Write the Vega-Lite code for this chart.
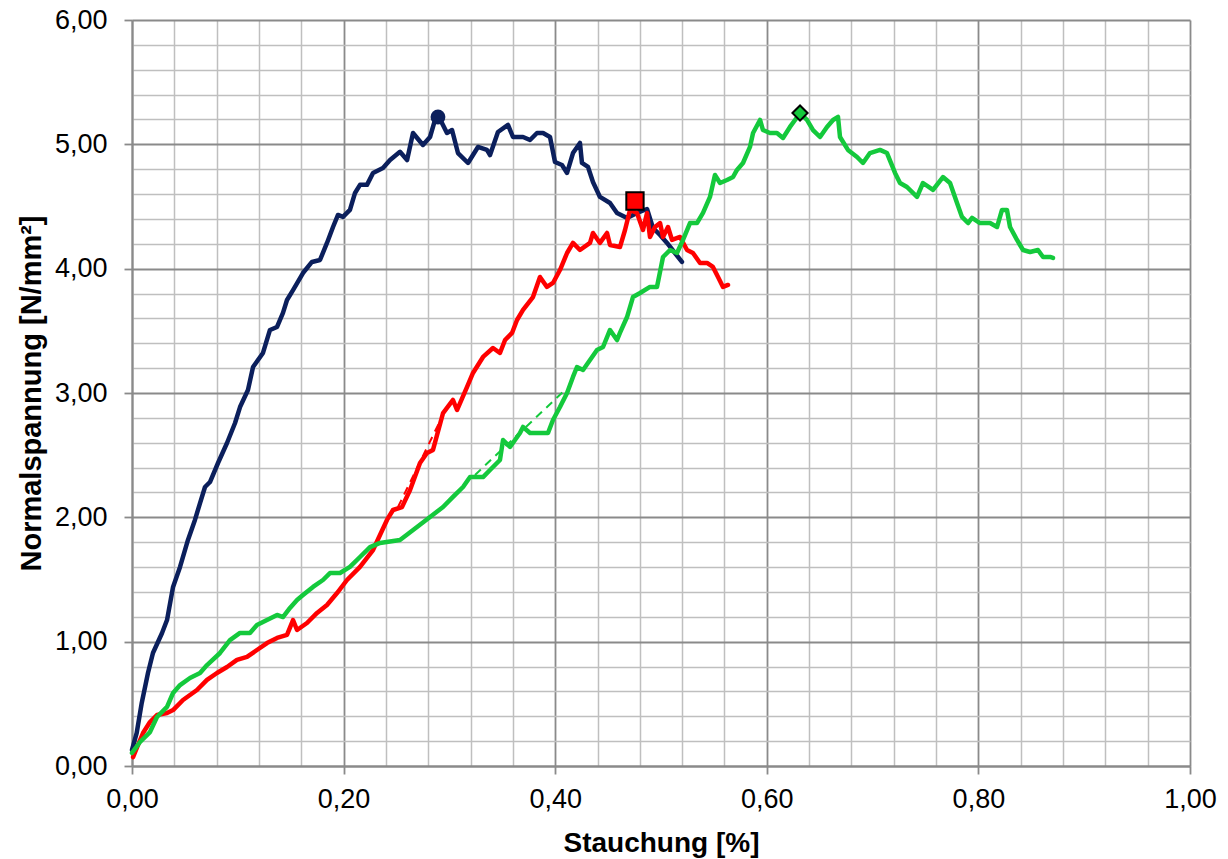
{
  "$schema": "https://vega.github.io/schema/vega-lite/v6.json",
  "width": 1058,
  "height": 746,
  "autosize": {"type": "none"},
  "padding": {"left": 132, "top": 20, "right": 38, "bottom": 93},
  "background": "white",
  "config": {"view": {"stroke": null}},
  "datasets": {
    "curves": [
      {"s":"b","x":0,"y":0.129},{"s":"b","x":0.0044,"y":0.265},{"s":"b","x":0.0092,"y":0.507},{"s":"b","x":0.0151,"y":0.748},{"s":"b","x":0.0198,"y":0.909},{"s":"b","x":0.0284,"y":1.07},{"s":"b","x":0.0331,"y":1.174},{"s":"b","x":0.0388,"y":1.44},{"s":"b","x":0.0454,"y":1.601},{"s":"b","x":0.0529,"y":1.818},{"s":"b","x":0.0595,"y":1.979},{"s":"b","x":0.0643,"y":2.115},{"s":"b","x":0.069,"y":2.244},{"s":"b","x":0.0737,"y":2.284},{"s":"b","x":0.0813,"y":2.437},{"s":"b","x":0.0898,"y":2.598},{"s":"b","x":0.0974,"y":2.759},{"s":"b","x":0.1021,"y":2.887},{"s":"b","x":0.1096,"y":3.024},{"s":"b","x":0.1144,"y":3.209},{"s":"b","x":0.1238,"y":3.322},{"s":"b","x":0.1304,"y":3.507},{"s":"b","x":0.1371,"y":3.531},{"s":"b","x":0.1427,"y":3.644},{"s":"b","x":0.1465,"y":3.748},{"s":"b","x":0.1522,"y":3.828},{"s":"b","x":0.1616,"y":3.965},{"s":"b","x":0.1701,"y":4.054},{"s":"b","x":0.1777,"y":4.07},{"s":"b","x":0.1843,"y":4.207},{"s":"b","x":0.19,"y":4.335},{"s":"b","x":0.1947,"y":4.432},{"s":"b","x":0.1994,"y":4.416},{"s":"b","x":0.206,"y":4.473},{"s":"b","x":0.2108,"y":4.609},{"s":"b","x":0.2155,"y":4.674},{"s":"b","x":0.2221,"y":4.674},{"s":"b","x":0.2278,"y":4.77},{"s":"b","x":0.2372,"y":4.81},{"s":"b","x":0.2439,"y":4.874},{"s":"b","x":0.2533,"y":4.94},{"s":"b","x":0.26,"y":4.874},{"s":"b","x":0.2656,"y":5.091},{"s":"b","x":0.275,"y":4.995},{"s":"b","x":0.2817,"y":5.059},{"s":"b","x":0.2864,"y":5.196},{"s":"b","x":0.2892,"y":5.236},{"s":"b","x":0.2977,"y":5.091},{"s":"b","x":0.3025,"y":5.115},{"s":"b","x":0.3081,"y":4.93},{"s":"b","x":0.3176,"y":4.85},{"s":"b","x":0.327,"y":4.979},{"s":"b","x":0.3355,"y":4.955},{"s":"b","x":0.3384,"y":4.914},{"s":"b","x":0.3459,"y":5.099},{"s":"b","x":0.3554,"y":5.156},{"s":"b","x":0.3601,"y":5.059},{"s":"b","x":0.3696,"y":5.059},{"s":"b","x":0.3762,"y":5.035},{"s":"b","x":0.3828,"y":5.091},{"s":"b","x":0.3885,"y":5.091},{"s":"b","x":0.3951,"y":5.059},{"s":"b","x":0.3998,"y":4.858},{"s":"b","x":0.4064,"y":4.834},{"s":"b","x":0.4112,"y":4.77},{"s":"b","x":0.4168,"y":4.93},{"s":"b","x":0.4234,"y":5.011},{"s":"b","x":0.4253,"y":4.85},{"s":"b","x":0.431,"y":4.818},{"s":"b","x":0.4357,"y":4.697},{"s":"b","x":0.4423,"y":4.577},{"s":"b","x":0.4518,"y":4.528},{"s":"b","x":0.4584,"y":4.448},{"s":"b","x":0.4679,"y":4.408},{"s":"b","x":0.4773,"y":4.448},{"s":"b","x":0.4868,"y":4.48},{"s":"b","x":0.4924,"y":4.327},{"s":"b","x":0.4991,"y":4.271},{"s":"b","x":0.5057,"y":4.207},{"s":"b","x":0.5132,"y":4.126},{"s":"b","x":0.5198,"y":4.054},
      {"s":"r","x":0.001,"y":0.072},{"s":"r","x":0.0057,"y":0.169},{"s":"r","x":0.0104,"y":0.265},{"s":"r","x":0.017,"y":0.354},{"s":"r","x":0.0236,"y":0.41},{"s":"r","x":0.0331,"y":0.426},{"s":"r","x":0.0388,"y":0.45},{"s":"r","x":0.0482,"y":0.531},{"s":"r","x":0.0614,"y":0.611},{"s":"r","x":0.0709,"y":0.692},{"s":"r","x":0.0803,"y":0.748},{"s":"r","x":0.0898,"y":0.796},{"s":"r","x":0.0992,"y":0.853},{"s":"r","x":0.1087,"y":0.877},{"s":"r","x":0.1181,"y":0.933},{"s":"r","x":0.1276,"y":0.989},{"s":"r","x":0.1371,"y":1.03},{"s":"r","x":0.1465,"y":1.054},{"s":"r","x":0.1522,"y":1.174},{"s":"r","x":0.156,"y":1.094},{"s":"r","x":0.1654,"y":1.15},{"s":"r","x":0.1749,"y":1.231},{"s":"r","x":0.1843,"y":1.295},{"s":"r","x":0.1938,"y":1.391},{"s":"r","x":0.2032,"y":1.496},{"s":"r","x":0.2155,"y":1.601},{"s":"r","x":0.2278,"y":1.737},{"s":"r","x":0.2344,"y":1.858},{"s":"r","x":0.241,"y":1.979},{"s":"r","x":0.2467,"y":2.059},{"s":"r","x":0.2552,"y":2.083},{"s":"r","x":0.2628,"y":2.22},{"s":"r","x":0.2722,"y":2.437},{"s":"r","x":0.2788,"y":2.517},{"s":"r","x":0.2845,"y":2.542},{"s":"r","x":0.294,"y":2.839},{"s":"r","x":0.3034,"y":2.944},{"s":"r","x":0.3072,"y":2.863},{"s":"r","x":0.3166,"y":3.048},{"s":"r","x":0.3223,"y":3.161},{"s":"r","x":0.3318,"y":3.29},{"s":"r","x":0.3412,"y":3.362},{"s":"r","x":0.3478,"y":3.322},{"s":"r","x":0.3526,"y":3.426},{"s":"r","x":0.3592,"y":3.483},{"s":"r","x":0.3639,"y":3.587},{"s":"r","x":0.3696,"y":3.668},{"s":"r","x":0.379,"y":3.772},{"s":"r","x":0.3856,"y":3.933},{"s":"r","x":0.3922,"y":3.853},{"s":"r","x":0.3979,"y":3.885},{"s":"r","x":0.4045,"y":3.989},{"s":"r","x":0.4112,"y":4.126},{"s":"r","x":0.4168,"y":4.207},{"s":"r","x":0.4234,"y":4.15},{"s":"r","x":0.4329,"y":4.207},{"s":"r","x":0.4357,"y":4.287},{"s":"r","x":0.4423,"y":4.207},{"s":"r","x":0.449,"y":4.287},{"s":"r","x":0.4518,"y":4.19},{"s":"r","x":0.4612,"y":4.174},{"s":"r","x":0.466,"y":4.311},{"s":"r","x":0.4707,"y":4.472},{"s":"r","x":0.4773,"y":4.448},{"s":"r","x":0.483,"y":4.311},{"s":"r","x":0.4868,"y":4.448},{"s":"r","x":0.4896,"y":4.255},{"s":"r","x":0.4943,"y":4.335},{"s":"r","x":0.4991,"y":4.367},{"s":"r","x":0.5019,"y":4.255},{"s":"r","x":0.5066,"y":4.335},{"s":"r","x":0.5104,"y":4.231},{"s":"r","x":0.518,"y":4.255},{"s":"r","x":0.5246,"y":4.15},{"s":"r","x":0.5302,"y":4.126},{"s":"r","x":0.5369,"y":4.046},{"s":"r","x":0.5435,"y":4.046},{"s":"r","x":0.5491,"y":4.014},{"s":"r","x":0.5539,"y":3.933},{"s":"r","x":0.5586,"y":3.853},{"s":"r","x":0.5633,"y":3.869},
      {"s":"g","x":0,"y":0.105},{"s":"g","x":0.0076,"y":0.193},{"s":"g","x":0.017,"y":0.273},{"s":"g","x":0.0236,"y":0.394},{"s":"g","x":0.0331,"y":0.475},{"s":"g","x":0.0388,"y":0.587},{"s":"g","x":0.0454,"y":0.651},{"s":"g","x":0.0548,"y":0.708},{"s":"g","x":0.0643,"y":0.748},{"s":"g","x":0.0709,"y":0.812},{"s":"g","x":0.0832,"y":0.909},{"s":"g","x":0.0926,"y":1.013},{"s":"g","x":0.1021,"y":1.07},{"s":"g","x":0.1115,"y":1.07},{"s":"g","x":0.1181,"y":1.134},{"s":"g","x":0.1276,"y":1.174},{"s":"g","x":0.1371,"y":1.215},{"s":"g","x":0.1427,"y":1.198},{"s":"g","x":0.1493,"y":1.271},{"s":"g","x":0.156,"y":1.335},{"s":"g","x":0.1616,"y":1.375},{"s":"g","x":0.1711,"y":1.44},{"s":"g","x":0.1805,"y":1.496},{"s":"g","x":0.1871,"y":1.552},{"s":"g","x":0.1966,"y":1.552},{"s":"g","x":0.206,"y":1.601},{"s":"g","x":0.2155,"y":1.681},{"s":"g","x":0.225,"y":1.761},{"s":"g","x":0.2344,"y":1.794},{"s":"g","x":0.2533,"y":1.818},{"s":"g","x":0.2694,"y":1.922},{"s":"g","x":0.2817,"y":2.003},{"s":"g","x":0.294,"y":2.083},{"s":"g","x":0.3034,"y":2.164},{"s":"g","x":0.3129,"y":2.244},{"s":"g","x":0.3195,"y":2.324},{"s":"g","x":0.3318,"y":2.324},{"s":"g","x":0.3384,"y":2.381},{"s":"g","x":0.3478,"y":2.461},{"s":"g","x":0.3507,"y":2.622},{"s":"g","x":0.3573,"y":2.566},{"s":"g","x":0.3667,"y":2.678},{"s":"g","x":0.3696,"y":2.727},{"s":"g","x":0.3762,"y":2.678},{"s":"g","x":0.3856,"y":2.678},{"s":"g","x":0.3932,"y":2.678},{"s":"g","x":0.3979,"y":2.783},{"s":"g","x":0.4045,"y":2.887},{"s":"g","x":0.4112,"y":3.0},{"s":"g","x":0.4168,"y":3.129},{"s":"g","x":0.4206,"y":3.209},{"s":"g","x":0.4263,"y":3.185},{"s":"g","x":0.4329,"y":3.265},{"s":"g","x":0.4395,"y":3.346},{"s":"g","x":0.4452,"y":3.37},{"s":"g","x":0.4518,"y":3.507},{"s":"g","x":0.4584,"y":3.426},{"s":"g","x":0.4612,"y":3.483},{"s":"g","x":0.4679,"y":3.611},{"s":"g","x":0.4735,"y":3.772},{"s":"g","x":0.4802,"y":3.804},{"s":"g","x":0.4896,"y":3.853},{"s":"g","x":0.4962,"y":3.853},{"s":"g","x":0.5019,"y":4.094},{"s":"g","x":0.5085,"y":4.15},{"s":"g","x":0.5151,"y":4.126},{"s":"g","x":0.5208,"y":4.231},{"s":"g","x":0.5274,"y":4.367},{"s":"g","x":0.534,"y":4.367},{"s":"g","x":0.5397,"y":4.448},{"s":"g","x":0.5463,"y":4.577},{"s":"g","x":0.551,"y":4.753},{"s":"g","x":0.5558,"y":4.689},{"s":"g","x":0.5624,"y":4.713},{"s":"g","x":0.5681,"y":4.737},{"s":"g","x":0.5718,"y":4.794},{"s":"g","x":0.5775,"y":4.85},{"s":"g","x":0.5841,"y":4.979},{"s":"g","x":0.587,"y":5.091},{"s":"g","x":0.5936,"y":5.196},{"s":"g","x":0.5964,"y":5.115},{"s":"g","x":0.603,"y":5.091},{"s":"g","x":0.6096,"y":5.091},{"s":"g","x":0.6153,"y":5.051},{"s":"g","x":0.6219,"y":5.14},{"s":"g","x":0.6267,"y":5.196},{"s":"g","x":0.6314,"y":5.252},{"s":"g","x":0.638,"y":5.196},{"s":"g","x":0.6437,"y":5.115},{"s":"g","x":0.6503,"y":5.059},{"s":"g","x":0.6569,"y":5.14},{"s":"g","x":0.6626,"y":5.196},{"s":"g","x":0.6673,"y":5.22},{"s":"g","x":0.6692,"y":5.059},{"s":"g","x":0.6767,"y":4.955},{"s":"g","x":0.6853,"y":4.898},{"s":"g","x":0.6909,"y":4.85},{"s":"g","x":0.6975,"y":4.93},{"s":"g","x":0.707,"y":4.955},{"s":"g","x":0.7136,"y":4.93},{"s":"g","x":0.7212,"y":4.77},{"s":"g","x":0.7259,"y":4.689},{"s":"g","x":0.7325,"y":4.657},{"s":"g","x":0.742,"y":4.577},{"s":"g","x":0.7476,"y":4.689},{"s":"g","x":0.7571,"y":4.633},{"s":"g","x":0.7665,"y":4.737},{"s":"g","x":0.7732,"y":4.689},{"s":"g","x":0.7798,"y":4.528},{"s":"g","x":0.7845,"y":4.416},{"s":"g","x":0.7902,"y":4.367},{"s":"g","x":0.794,"y":4.408},{"s":"g","x":0.8015,"y":4.367},{"s":"g","x":0.811,"y":4.367},{"s":"g","x":0.8176,"y":4.335},{"s":"g","x":0.8223,"y":4.472},{"s":"g","x":0.827,"y":4.472},{"s":"g","x":0.8299,"y":4.335},{"s":"g","x":0.8365,"y":4.231},{"s":"g","x":0.8422,"y":4.15},{"s":"g","x":0.8488,"y":4.134},{"s":"g","x":0.8563,"y":4.15},{"s":"g","x":0.8611,"y":4.094},{"s":"g","x":0.8677,"y":4.094},{"s":"g","x":0.8705,"y":4.086}
    ],
    "fits": [
      {"s":"r","x":0.2514,"y":2.083},{"s":"r","x":0.293,"y":2.807},
      {"s":"g","x":0.3242,"y":2.341},{"s":"g","x":0.4093,"y":3.024}
    ],
    "peaks": [
      {"s":"b","x":0.2892,"y":5.22},
      {"s":"r","x":0.4754,"y":4.544},
      {"s":"g","x":0.6314,"y":5.252}
    ]
  },
  "resolve": {"axis": {"x": "independent", "y": "independent"}},
  "layer": [
    {
      "data": {"name": "fits"},
      "mark": {"type": "line", "strokeWidth": 2, "strokeDash": [8, 6]},
      "encoding": {
        "x": {"field": "x", "type": "quantitative", "scale": {"domain": [0, 1], "nice": false},
          "axis": {"orient": "bottom", "values": [0.04,0.08,0.12,0.16,0.24,0.28,0.32,0.36,0.44,0.48,0.52,0.56,0.64,0.68,0.72,0.76,0.84,0.88,0.92,0.96],
            "grid": true, "gridColor": "#BFBFBF", "gridWidth": 1.5, "labels": false, "ticks": false, "domain": false, "title": null, "zindex": 0}},
        "y": {"field": "y", "type": "quantitative", "scale": {"domain": [0, 6], "nice": false},
          "axis": {"orient": "left", "values": [0.2,0.4,0.6,0.8,1.2,1.4,1.6,1.8,2.2,2.4,2.6,2.8,3.2,3.4,3.6,3.8,4.2,4.4,4.6,4.8,5.2,5.4,5.6,5.8],
            "grid": true, "gridColor": "#BFBFBF", "gridWidth": 1.5, "labels": false, "ticks": false, "domain": false, "title": null, "zindex": 0}},
        "color": {"field": "s", "type": "nominal", "scale": {"domain": ["b", "r", "g"], "range": ["#0B1F5C", "#FF0000", "#14C93C"]}, "legend": null},
        "detail": {"field": "s"}
      }
    },
    {
      "data": {"name": "curves"},
      "transform": [{"filter": "datum.s === 'b'"}],
      "mark": {"type": "line", "strokeWidth": 4.5, "strokeJoin": "round", "strokeCap": "round", "color": "#0B1F5C"},
      "encoding": {
        "x": {"field": "x", "type": "quantitative",
          "axis": {"orient": "bottom", "values": [0, 0.2, 0.4, 0.6, 0.8, 1.0], "grid": true, "gridColor": "#8A8A8A", "gridWidth": 1.8,
            "domain": true, "domainColor": "#8A8A8A", "domainWidth": 2, "ticks": true, "tickColor": "#8A8A8A", "tickWidth": 1.8, "tickSize": 8,
            "labelExpr": "replace(format(datum.value, '.2f'), '.', ',')", "labelFont": "Liberation Sans", "labelFontSize": 27, "labelColor": "#000000", "labelPadding": 12, "labelFlush": false, "labelOverlap": false,
            "title": "Stauchung [%]", "titleFont": "Liberation Sans", "titleFontSize": 28, "titleFontWeight": "bold", "titleColor": "#000000", "titlePadding": 17, "zindex": 0}},
        "y": {"field": "y", "type": "quantitative",
          "axis": {"orient": "left", "values": [0, 1, 2, 3, 4, 5, 6], "grid": true, "gridColor": "#8A8A8A", "gridWidth": 1.8,
            "domain": true, "domainColor": "#8A8A8A", "domainWidth": 2, "ticks": true, "tickColor": "#8A8A8A", "tickWidth": 1.8, "tickSize": 8,
            "labelExpr": "replace(format(datum.value, '.2f'), '.', ',')", "labelFont": "Liberation Sans", "labelFontSize": 27, "labelColor": "#000000", "labelPadding": 17, "labelFlush": false, "labelOverlap": false,
            "title": "Normalspannung [N/mm²]", "titleFont": "Liberation Sans", "titleFontSize": 29, "titleFontWeight": "bold", "titleColor": "#000000", "titlePadding": 8, "zindex": 0}}
      }
    },
    {
      "data": {"name": "curves"},
      "transform": [{"filter": "datum.s === 'r'"}],
      "mark": {"type": "line", "strokeWidth": 4.5, "strokeJoin": "round", "strokeCap": "round", "color": "#FF0000"},
      "encoding": {
        "x": {"field": "x", "type": "quantitative", "axis": null},
        "y": {"field": "y", "type": "quantitative", "axis": null}
      }
    },
    {
      "data": {"name": "curves"},
      "transform": [{"filter": "datum.s === 'g'"}],
      "mark": {"type": "line", "strokeWidth": 4.5, "strokeJoin": "round", "strokeCap": "round", "color": "#14C93C"},
      "encoding": {
        "x": {"field": "x", "type": "quantitative", "axis": null},
        "y": {"field": "y", "type": "quantitative", "axis": null}
      }
    },
    {
      "data": {"name": "peaks"},
      "transform": [{"filter": "datum.s === 'b'"}],
      "mark": {"type": "point", "shape": "circle", "filled": true, "size": 220, "color": "#0B1F5C", "opacity": 1},
      "encoding": {
        "x": {"field": "x", "type": "quantitative", "axis": null},
        "y": {"field": "y", "type": "quantitative", "axis": null}
      }
    },
    {
      "data": {"name": "peaks"},
      "transform": [{"filter": "datum.s === 'r'"}],
      "mark": {"type": "point", "shape": "square", "filled": true, "size": 300, "fill": "#FF0000", "stroke": "#000000", "strokeWidth": 2, "opacity": 1},
      "encoding": {
        "x": {"field": "x", "type": "quantitative", "axis": null},
        "y": {"field": "y", "type": "quantitative", "axis": null}
      }
    },
    {
      "data": {"name": "peaks"},
      "transform": [{"filter": "datum.s === 'g'"}],
      "mark": {"type": "point", "shape": "diamond", "filled": true, "size": 230, "fill": "#14C93C", "stroke": "#000000", "strokeWidth": 2, "opacity": 1},
      "encoding": {
        "x": {"field": "x", "type": "quantitative", "axis": null},
        "y": {"field": "y", "type": "quantitative", "axis": null}
      }
    }
  ]
}
